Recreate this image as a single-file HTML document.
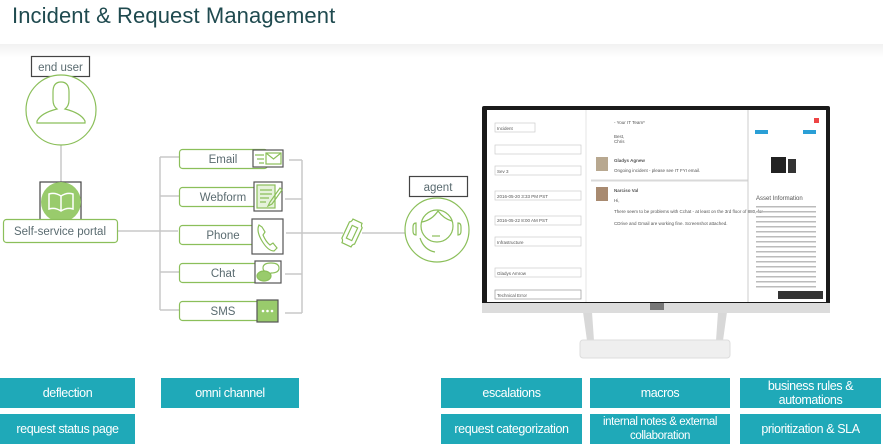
<!DOCTYPE html>
<html><head><meta charset="utf-8"><style>
html,body{margin:0;padding:0;background:#fff;}
body{width:883px;height:448px;overflow:hidden;position:relative;font-family:"Liberation Sans",sans-serif;}
.t{position:absolute;left:12px;top:3px;font-size:22px;color:#1f4a4f;letter-spacing:0.1px;}
.band{position:absolute;left:0;top:44px;width:883px;height:14px;background:linear-gradient(#f1f1f1,#fff);}
.b{position:absolute;background:#1fa9b8;color:#fff;font-size:12.5px;letter-spacing:-0.4px;display:flex;align-items:center;justify-content:center;text-align:center;line-height:14px;white-space:nowrap;}
</style></head><body>
<div class="band"></div>
<div class="t">Incident &amp; Request Management</div>
<svg width="883" height="448" style="position:absolute;left:0;top:0" font-family="Liberation Sans, sans-serif">
<g stroke="#c8c8c8" stroke-width="1.5" fill="none">
<line x1="61" y1="145" x2="61" y2="182"/>
<line x1="118" y1="231" x2="178" y2="231"/>
<line x1="160" y1="157" x2="160" y2="310"/>
<line x1="160" y1="157" x2="179" y2="157"/><line x1="160" y1="196" x2="179" y2="196"/>
<line x1="160" y1="272" x2="179" y2="272"/><line x1="160" y1="310" x2="179" y2="310"/>
<line x1="289" y1="160" x2="302" y2="160"/><line x1="302" y1="160" x2="302" y2="313"/>
<line x1="285" y1="199" x2="302" y2="199"/><line x1="285" y1="274" x2="302" y2="274"/>
<line x1="285" y1="313" x2="302" y2="313"/>
<line x1="286" y1="233" x2="343" y2="233"/><line x1="362" y1="233" x2="405" y2="233"/>
</g>
<rect x="31.5" y="56.5" width="58" height="20" fill="#fff" stroke="#444" stroke-width="1.2"/>
<text x="60.5" y="71" font-size="11.5" fill="#5a6b70" text-anchor="middle">end user</text>
<circle cx="61" cy="110" r="35" fill="#fff" stroke="#8bbf5a" stroke-width="1.2"/>
<path d="M53 92 q0-10 8-10 q8 0 8 10 v8 q0 6-4 9 q16 4 20 12 v2 h-48 v-2 q4-8 20-12 q-4-3-4-9z" fill="none" stroke="#8bbf5a" stroke-width="1.2"/>
<rect x="40" y="182" width="41" height="41" fill="#fff" stroke="#444" stroke-width="1.2"/>
<circle cx="61" cy="202" r="20" fill="#99cb6c"/>
<path d="M49 194 q6-2 12 2 q6-4 12-2 v15 q-6-2-12 2 q-6-4-12-2z M61 196 v15" fill="none" stroke="#fff" stroke-width="1.5"/>
<rect x="3.5" y="219.5" width="114" height="23" rx="3" fill="#fff" stroke="#8bbf5a" stroke-width="1.2"/>
<text x="60" y="235" font-size="11.5" fill="#5a6b70" text-anchor="middle">Self-service portal</text>
<g stroke="#8bbf5a" stroke-width="1.2" fill="#fff">
<rect x="179.5" y="149.5" width="88" height="19" rx="3"/>
<rect x="179.5" y="187.5" width="88" height="19" rx="3"/>
<rect x="179.5" y="225.5" width="88" height="19" rx="3"/>
<rect x="179.5" y="263.5" width="88" height="19" rx="3"/>
<rect x="179.5" y="301.5" width="88" height="19" rx="3"/>
</g>
<g font-size="11.5" fill="#5a6b70" text-anchor="middle">
<text x="223" y="163">Email</text><text x="223" y="201">Webform</text><text x="223" y="239">Phone</text><text x="223" y="277">Chat</text><text x="223" y="315">SMS</text>
</g>
<g stroke="#555" stroke-width="1.2" fill="#fff">
<rect x="253" y="150" width="30" height="17"/>
<rect x="254" y="182" width="28" height="29"/>
<rect x="252" y="219" width="31" height="35"/>
<rect x="255" y="261" width="26" height="22"/>
<rect x="257" y="300" width="21" height="22" fill="#99cb6c"/>
</g>
<g stroke="#8bbf5a" stroke-width="1.2" fill="none">
<rect x="266" y="153" width="15" height="11"/><path d="M266 153 l7.5 6 l7.5-6 M255 155 h9 M257 159 h7 M259 163 h5"/>
<rect x="257" y="185" width="18" height="23" fill="#e6f2db"/><path d="M260 190 h12 M260 194 h12 M260 198 h9 M260 202 h6 M280 188 l-10 14 l-2 4 l4-2 l10-14z"/>
<path d="M259 225 q-3 6 3 16 q6 10 12 10 l3-3 l-4-5 l-3 2 q-4-3-7-10 l2-3 l-3-5z"/>
<path d="M263 268 q0-5 8-5 q8 0 8 5 q0 5-8 5 l-2 4 v-4 q-6-1-6-5z"/><ellipse cx="264" cy="276" rx="7" ry="5" fill="#99cb6c"/>
</g>
<g fill="#fff"><circle cx="263" cy="311" r="1.3"/><circle cx="267.5" cy="311" r="1.3"/><circle cx="272" cy="311" r="1.3"/></g>
<g transform="translate(352,233) rotate(25)" stroke="#8bbf5a" stroke-width="1.2" fill="none">
<path d="M-5 -13 h10 q0 3 2 4 v18 q-2 1-2 4 h-10 q0-3-2-4 v-18 q2-1 2-4z"/><rect x="-3" y="-7" width="6" height="14"/>
</g>
<rect x="409.5" y="176.5" width="58" height="20" fill="#fff" stroke="#444" stroke-width="1.2"/>
<text x="438" y="191" font-size="11.5" fill="#5a6b70" text-anchor="middle">agent</text>
<circle cx="437" cy="230" r="32" fill="#fff" stroke="#8bbf5a" stroke-width="1.2"/>
<g stroke="#8bbf5a" stroke-width="1.2" fill="none">
<circle cx="437" cy="226" r="16"/><path d="M422 222 q10-2 16-11 q6 8 14 10"/><path d="M432 236 h8"/>
<path d="M416 223 q-3 0-3 4 v4 q0 4 3 4 v-12z M458 223 q3 0 3 4 v4 q0 4-3 4 v-12z"/><path d="M420 238 q4 12 15 14"/>
</g>
<path d="M583 312 l6 43 h6 l-3-43z M727 312 l-6 43 h-6 l3-43z" fill="#d8d8d8"/>
<rect x="580" y="340" width="150" height="18" rx="3" fill="#efefef" stroke="#ddd"/>
<rect x="482" y="106" width="348" height="207" rx="2" fill="#1a1a1a"/>
<rect x="482" y="303" width="348" height="10" fill="#dcdcdc"/>
<rect x="650" y="303" width="14" height="7" fill="#777"/>
<rect x="487" y="110" width="339" height="192" fill="#fff"/>
<line x1="586" y1="110" x2="586" y2="302" stroke="#e4e4e4"/>
<line x1="748" y1="110" x2="748" y2="302" stroke="#ccc"/>
<g fill="#fff" stroke="#ccc" stroke-width="0.7">
<rect x="495" y="123" width="40" height="9"/><rect x="495" y="145" width="86" height="9"/><rect x="495" y="166" width="86" height="9"/>
<rect x="495" y="191" width="86" height="9"/><rect x="495" y="216" width="86" height="9"/><rect x="495" y="237" width="86" height="9"/>
<rect x="495" y="268" width="86" height="9"/><rect x="495" y="290" width="86" height="9" stroke="#999"/>
<line x1="591" y1="180" x2="748" y2="180"/><line x1="591" y1="181" x2="748" y2="181"/>
</g>
<g font-size="4.5" fill="#555">
<text x="497" y="130">Incident</text><text x="497" y="173">Sev 3</text><text x="497" y="198">2016-05-20 3:33 PM PST</text>
<text x="497" y="222">2016-05-22 8:00 AM PST</text><text x="497" y="244">Infrastructure</text><text x="497" y="275">Gladys Amrow</text><text x="497" y="297">Technical Error</text>
<text x="614" y="124">- Your IT Team*</text><text x="614" y="138">Best,</text><text x="614" y="143">Chris</text>
<text x="614" y="162" font-weight="bold">Gladys Agnew</text><text x="614" y="172">Ongoing incident - please see IT FYI email.</text>
<text x="614" y="192" font-weight="bold">Narciso Val</text><text x="614" y="202">Hi,</text>
<text x="614" y="213">There seem to be problems with Cchat - at least on the 3rd floor of 880, for</text>
<text x="614" y="225">CDrive and Gmail are working fine. Screenshot attached.</text>
<text x="756" y="200" font-size="6">Asset Information</text>
</g>
<rect x="596" y="157" width="12" height="14" fill="#b8a890"/><rect x="596" y="187" width="12" height="14" fill="#a88a70"/>
<rect x="755" y="130" width="13" height="4" fill="#2a9fd6"/><rect x="803" y="130" width="13" height="4" fill="#2a9fd6"/>
<rect x="814" y="118" width="5" height="5" fill="#e44"/>
<rect x="771" y="157" width="15" height="16" fill="#222"/><rect x="788" y="159" width="8" height="14" fill="#333"/>
<g fill="#bbb"><rect x="756" y="206" width="60" height="1.5"/><rect x="756" y="211" width="60" height="1.5"/><rect x="756" y="216" width="60" height="1.5"/><rect x="756" y="221" width="60" height="1.5"/><rect x="756" y="226" width="60" height="1.5"/><rect x="756" y="231" width="60" height="1.5"/><rect x="756" y="236" width="60" height="1.5"/><rect x="756" y="241" width="60" height="1.5"/><rect x="756" y="246" width="60" height="1.5"/><rect x="756" y="251" width="60" height="1.5"/><rect x="756" y="256" width="60" height="1.5"/><rect x="756" y="261" width="60" height="1.5"/><rect x="756" y="266" width="60" height="1.5"/><rect x="756" y="271" width="60" height="1.5"/><rect x="756" y="276" width="60" height="1.5"/><rect x="756" y="281" width="60" height="1.5"/><rect x="756" y="286" width="60" height="1.5"/></g>
<rect x="778" y="291" width="45" height="8" fill="#333"/>
</svg>
<div class="b" style="left:0;top:378px;width:135px;height:30px">deflection</div>
<div class="b" style="left:0;top:414px;width:135px;height:30px">request status page</div>
<div class="b" style="left:161px;top:378px;width:138px;height:30px">omni channel</div>
<div class="b" style="left:441px;top:378px;width:141px;height:30px">escalations</div>
<div class="b" style="left:590px;top:378px;width:140px;height:30px">macros</div>
<div class="b" style="left:740px;top:378px;width:141px;height:30px">business rules &amp;<br>automations</div>
<div class="b" style="left:441px;top:414px;width:141px;height:30px">request categorization</div>
<div class="b" style="left:590px;top:414px;width:140px;height:30px;font-size:11.5px">internal notes &amp; external<br>collaboration</div>
<div class="b" style="left:740px;top:414px;width:141px;height:30px">prioritization &amp; SLA</div>
</body></html>
